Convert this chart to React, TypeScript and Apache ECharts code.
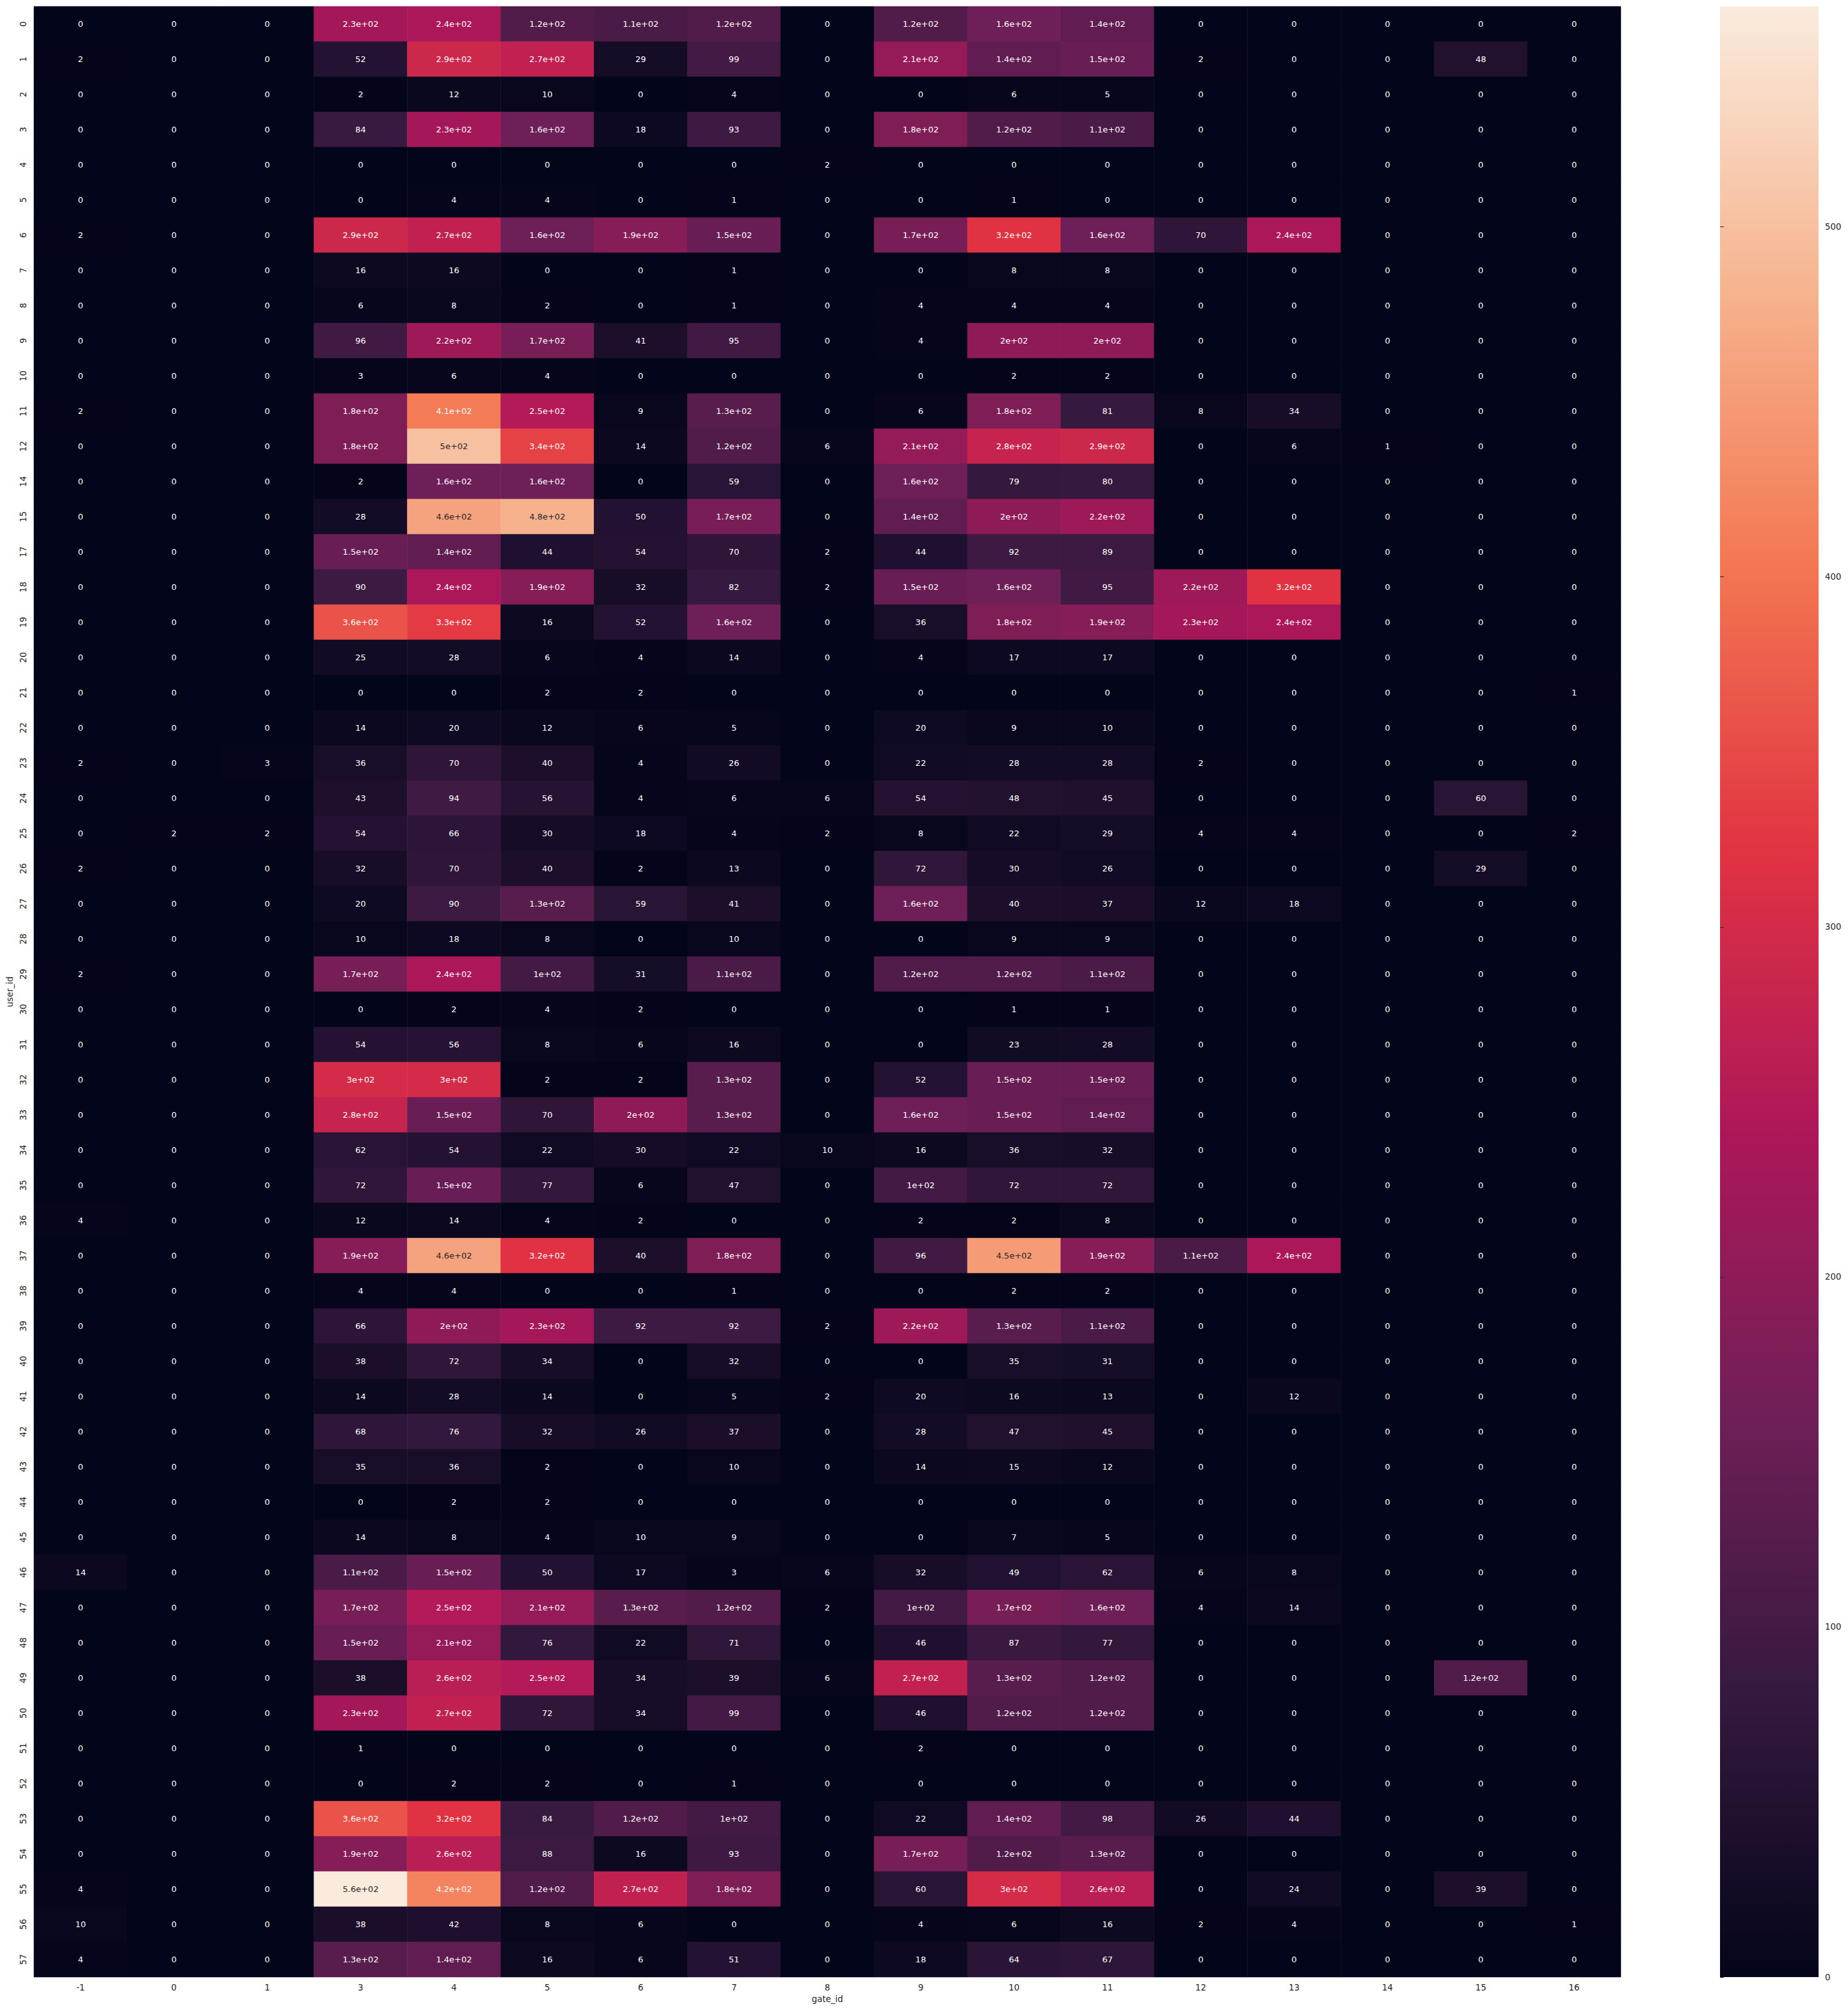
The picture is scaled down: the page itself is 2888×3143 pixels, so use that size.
import React, { useEffect, useRef } from "react";
import * as echarts from "echarts";

const gateIds: string[] = ["-1", "0", "1", "3", "4", "5", "6", "7", "8", "9", "10", "11", "12", "13", "14", "15", "16"];

const userIds: string[] = [
  "0", "1", "2", "3", "4", "5", "6", "7", "8", "9", "10", "11", "12", "14", "15", "17",
  "18", "19", "20", "21", "22", "23", "24", "25", "26", "27", "28", "29", "30", "31", "32", "33",
  "34", "35", "36", "37", "38", "39", "40", "41", "42", "43", "44", "45", "46", "47", "48", "49",
  "50", "51", "52", "53", "54", "55", "56", "57",
];

// counts[row][col], rows follow userIds, columns follow gateIds
const counts: number[][] = [
  [0, 0, 0, 230, 240, 120, 110, 120, 0, 120, 160, 140, 0, 0, 0, 0, 0],
  [2, 0, 0, 52, 290, 270, 29, 99, 0, 210, 140, 150, 2, 0, 0, 48, 0],
  [0, 0, 0, 2, 12, 10, 0, 4, 0, 0, 6, 5, 0, 0, 0, 0, 0],
  [0, 0, 0, 84, 230, 160, 18, 93, 0, 180, 120, 110, 0, 0, 0, 0, 0],
  [0, 0, 0, 0, 0, 0, 0, 0, 2, 0, 0, 0, 0, 0, 0, 0, 0],
  [0, 0, 0, 0, 4, 4, 0, 1, 0, 0, 1, 0, 0, 0, 0, 0, 0],
  [2, 0, 0, 290, 270, 160, 190, 150, 0, 170, 320, 160, 70, 240, 0, 0, 0],
  [0, 0, 0, 16, 16, 0, 0, 1, 0, 0, 8, 8, 0, 0, 0, 0, 0],
  [0, 0, 0, 6, 8, 2, 0, 1, 0, 4, 4, 4, 0, 0, 0, 0, 0],
  [0, 0, 0, 96, 220, 170, 41, 95, 0, 4, 200, 200, 0, 0, 0, 0, 0],
  [0, 0, 0, 3, 6, 4, 0, 0, 0, 0, 2, 2, 0, 0, 0, 0, 0],
  [2, 0, 0, 180, 410, 250, 9, 130, 0, 6, 180, 81, 8, 34, 0, 0, 0],
  [0, 0, 0, 180, 500, 340, 14, 120, 6, 210, 280, 290, 0, 6, 1, 0, 0],
  [0, 0, 0, 2, 160, 160, 0, 59, 0, 160, 79, 80, 0, 0, 0, 0, 0],
  [0, 0, 0, 28, 460, 480, 50, 170, 0, 140, 200, 220, 0, 0, 0, 0, 0],
  [0, 0, 0, 150, 140, 44, 54, 70, 2, 44, 92, 89, 0, 0, 0, 0, 0],
  [0, 0, 0, 90, 240, 190, 32, 82, 2, 150, 160, 95, 220, 320, 0, 0, 0],
  [0, 0, 0, 360, 330, 16, 52, 160, 0, 36, 180, 190, 230, 240, 0, 0, 0],
  [0, 0, 0, 25, 28, 6, 4, 14, 0, 4, 17, 17, 0, 0, 0, 0, 0],
  [0, 0, 0, 0, 0, 2, 2, 0, 0, 0, 0, 0, 0, 0, 0, 0, 1],
  [0, 0, 0, 14, 20, 12, 6, 5, 0, 20, 9, 10, 0, 0, 0, 0, 0],
  [2, 0, 3, 36, 70, 40, 4, 26, 0, 22, 28, 28, 2, 0, 0, 0, 0],
  [0, 0, 0, 43, 94, 56, 4, 6, 6, 54, 48, 45, 0, 0, 0, 60, 0],
  [0, 2, 2, 54, 66, 30, 18, 4, 2, 8, 22, 29, 4, 4, 0, 0, 2],
  [2, 0, 0, 32, 70, 40, 2, 13, 0, 72, 30, 26, 0, 0, 0, 29, 0],
  [0, 0, 0, 20, 90, 130, 59, 41, 0, 160, 40, 37, 12, 18, 0, 0, 0],
  [0, 0, 0, 10, 18, 8, 0, 10, 0, 0, 9, 9, 0, 0, 0, 0, 0],
  [2, 0, 0, 170, 240, 100, 31, 110, 0, 120, 120, 110, 0, 0, 0, 0, 0],
  [0, 0, 0, 0, 2, 4, 2, 0, 0, 0, 1, 1, 0, 0, 0, 0, 0],
  [0, 0, 0, 54, 56, 8, 6, 16, 0, 0, 23, 28, 0, 0, 0, 0, 0],
  [0, 0, 0, 300, 300, 2, 2, 130, 0, 52, 150, 150, 0, 0, 0, 0, 0],
  [0, 0, 0, 280, 150, 70, 200, 130, 0, 160, 150, 140, 0, 0, 0, 0, 0],
  [0, 0, 0, 62, 54, 22, 30, 22, 10, 16, 36, 32, 0, 0, 0, 0, 0],
  [0, 0, 0, 72, 150, 77, 6, 47, 0, 100, 72, 72, 0, 0, 0, 0, 0],
  [4, 0, 0, 12, 14, 4, 2, 0, 0, 2, 2, 8, 0, 0, 0, 0, 0],
  [0, 0, 0, 190, 460, 320, 40, 180, 0, 96, 450, 190, 110, 240, 0, 0, 0],
  [0, 0, 0, 4, 4, 0, 0, 1, 0, 0, 2, 2, 0, 0, 0, 0, 0],
  [0, 0, 0, 66, 200, 230, 92, 92, 2, 220, 130, 110, 0, 0, 0, 0, 0],
  [0, 0, 0, 38, 72, 34, 0, 32, 0, 0, 35, 31, 0, 0, 0, 0, 0],
  [0, 0, 0, 14, 28, 14, 0, 5, 2, 20, 16, 13, 0, 12, 0, 0, 0],
  [0, 0, 0, 68, 76, 32, 26, 37, 0, 28, 47, 45, 0, 0, 0, 0, 0],
  [0, 0, 0, 35, 36, 2, 0, 10, 0, 14, 15, 12, 0, 0, 0, 0, 0],
  [0, 0, 0, 0, 2, 2, 0, 0, 0, 0, 0, 0, 0, 0, 0, 0, 0],
  [0, 0, 0, 14, 8, 4, 10, 9, 0, 0, 7, 5, 0, 0, 0, 0, 0],
  [14, 0, 0, 110, 150, 50, 17, 3, 6, 32, 49, 62, 6, 8, 0, 0, 0],
  [0, 0, 0, 170, 250, 210, 130, 120, 2, 100, 170, 160, 4, 14, 0, 0, 0],
  [0, 0, 0, 150, 210, 76, 22, 71, 0, 46, 87, 77, 0, 0, 0, 0, 0],
  [0, 0, 0, 38, 260, 250, 34, 39, 6, 270, 130, 120, 0, 0, 0, 120, 0],
  [0, 0, 0, 230, 270, 72, 34, 99, 0, 46, 120, 120, 0, 0, 0, 0, 0],
  [0, 0, 0, 1, 0, 0, 0, 0, 0, 2, 0, 0, 0, 0, 0, 0, 0],
  [0, 0, 0, 0, 2, 2, 0, 1, 0, 0, 0, 0, 0, 0, 0, 0, 0],
  [0, 0, 0, 360, 320, 84, 120, 100, 0, 22, 140, 98, 26, 44, 0, 0, 0],
  [0, 0, 0, 190, 260, 88, 16, 93, 0, 170, 120, 130, 0, 0, 0, 0, 0],
  [4, 0, 0, 563, 420, 120, 270, 180, 0, 60, 300, 260, 0, 24, 0, 39, 0],
  [10, 0, 0, 38, 42, 8, 6, 0, 0, 4, 6, 16, 2, 4, 0, 0, 1],
  [4, 0, 0, 130, 140, 16, 6, 51, 0, 18, 64, 67, 0, 0, 0, 0, 0],
];

const colorbarTicks: number[] = [0, 100, 200, 300, 400, 500];

const rocket: string[] = ["#03051a", "#35193e", "#701f57", "#ad1759", "#e13342", "#f37651", "#f6b48f", "#faebdd"];

function hexToRgb(h: string): number[] {
  return [parseInt(h.slice(1, 3), 16), parseInt(h.slice(3, 5), 16), parseInt(h.slice(5, 7), 16)];
}

function colorAt(t: number): number[] {
  const n = rocket.length - 1;
  const x = Math.max(0, Math.min(1, t)) * n;
  const i = Math.min(n - 1, Math.floor(x));
  const f = x - i;
  const a = hexToRgb(rocket[i]);
  const b = hexToRgb(rocket[i + 1]);
  return [0, 1, 2].map((k) => a[k] + (b[k] - a[k]) * f);
}

function luminance(rgb: number[]): number {
  const lin = rgb.map((c) => {
    const v = c / 255;
    return v <= 0.03928 ? v / 12.92 : Math.pow((v + 0.055) / 1.055, 2.4);
  });
  return 0.2126 * lin[0] + 0.7152 * lin[1] + 0.0722 * lin[2];
}

function fmt2g(v: number): string {
  if (v === 0) return "0";
  const s = Number(v).toPrecision(2);
  if (s.includes("e")) {
    let [m, e] = s.split("e");
    if (m.includes(".")) m = m.replace(/0+$/, "").replace(/\.$/, "");
    const sign = e[0] === "-" ? "-" : "+";
    const digits = e.replace(/^[+-]/, "");
    return m + "e" + sign + (digits.length < 2 ? "0" + digits : digits);
  }
  if (s.includes(".")) return s.replace(/0+$/, "").replace(/\.$/, "");
  return s;
}

const FONT = "DejaVu Sans";
const TXT = "#262626";

export default function App() {
  const ref = useRef<HTMLDivElement>(null);

  useEffect(() => {
    if (!ref.current) return;
    const chart = echarts.init(ref.current, null, { renderer: "svg" });
    const vmax = Math.max(...counts.map((r) => Math.max(...r)));

    const data: any[] = [];
    counts.forEach((row, ri) => {
      row.forEach((v, ci) => {
        const lum = luminance(colorAt(v / vmax));
        data.push({
          value: [ci, ri, v],
          label: { color: lum > 0.408 ? TXT : "#ffffff" },
        });
      });
    });

    const gridL = 53, gridT = 10, gridW = 2480, gridH = 3080;
    const cbL = 2688, cbW = 154;

    chart.setOption({
      animation: false,
      backgroundColor: "#ffffff",
      textStyle: { fontFamily: FONT },
      grid: [
        { left: gridL, top: gridT, width: gridW, height: gridH },
        { left: cbL, top: gridT, width: cbW, height: gridH },
      ],
      xAxis: [
        {
          type: "category",
          gridIndex: 0,
          data: gateIds,
          position: "bottom",
          axisLine: { show: false },
          axisTick: { show: false },
          splitArea: { show: false },
          axisLabel: { color: TXT, fontSize: 13.3, fontFamily: FONT, margin: 10 },
          name: "gate_id",
          nameLocation: "middle",
          nameGap: 28,
          nameTextStyle: { color: TXT, fontSize: 13.3, fontFamily: FONT },
        },
        { type: "value", gridIndex: 1, show: false, min: 0, max: 1 },
      ],
      yAxis: [
        {
          type: "category",
          gridIndex: 0,
          data: userIds,
          inverse: true,
          axisLine: { show: false },
          axisTick: { show: false },
          splitArea: { show: false },
          axisLabel: { color: TXT, fontSize: 13.3, fontFamily: FONT, rotate: 90, margin: 10 },
          name: "user_id",
          nameLocation: "middle",
          nameRotate: 90,
          nameGap: 30,
          nameTextStyle: { color: TXT, fontSize: 13.3, fontFamily: FONT },
        },
        {
          type: "value",
          gridIndex: 1,
          position: "right",
          min: 0,
          max: vmax,
          axisLine: { show: false },
          splitLine: { show: false },
          axisTick: {
            show: true,
            length: 6,
            lineStyle: { color: TXT, width: 1 },
            customValues: colorbarTicks,
          },
          axisLabel: {
            color: TXT,
            fontSize: 13.3,
            fontFamily: FONT,
            margin: 10,
            customValues: colorbarTicks,
          },
        },
      ],
      visualMap: {
        show: false,
        type: "continuous",
        min: 0,
        max: vmax,
        seriesIndex: 0,
        dimension: 2,
        inRange: { color: rocket },
      },
      graphic: [
        {
          type: "rect",
          z: -1,
          shape: { x: cbL, y: gridT, width: cbW, height: gridH },
          style: {
            fill: new echarts.graphic.LinearGradient(
              0, 1, 0, 0,
              rocket.map((c, i) => ({ offset: i / (rocket.length - 1), color: c }))
            ),
          },
        },
      ],
      series: [
        {
          type: "heatmap",
          xAxisIndex: 0,
          yAxisIndex: 0,
          data,
          itemStyle: { borderWidth: 0 },
          label: {
            show: true,
            fontSize: 13,
            fontFamily: FONT,
            formatter: (p: any) => fmt2g(p.value[2]),
          },
          emphasis: { disabled: true },
        },
      ],
    });

    return () => chart.dispose();
  }, []);

  return (
    <div
      ref={ref}
      style={{ position: "absolute", left: 0, top: 0, width: 2888, height: 3143 }}
    />
  );
}
